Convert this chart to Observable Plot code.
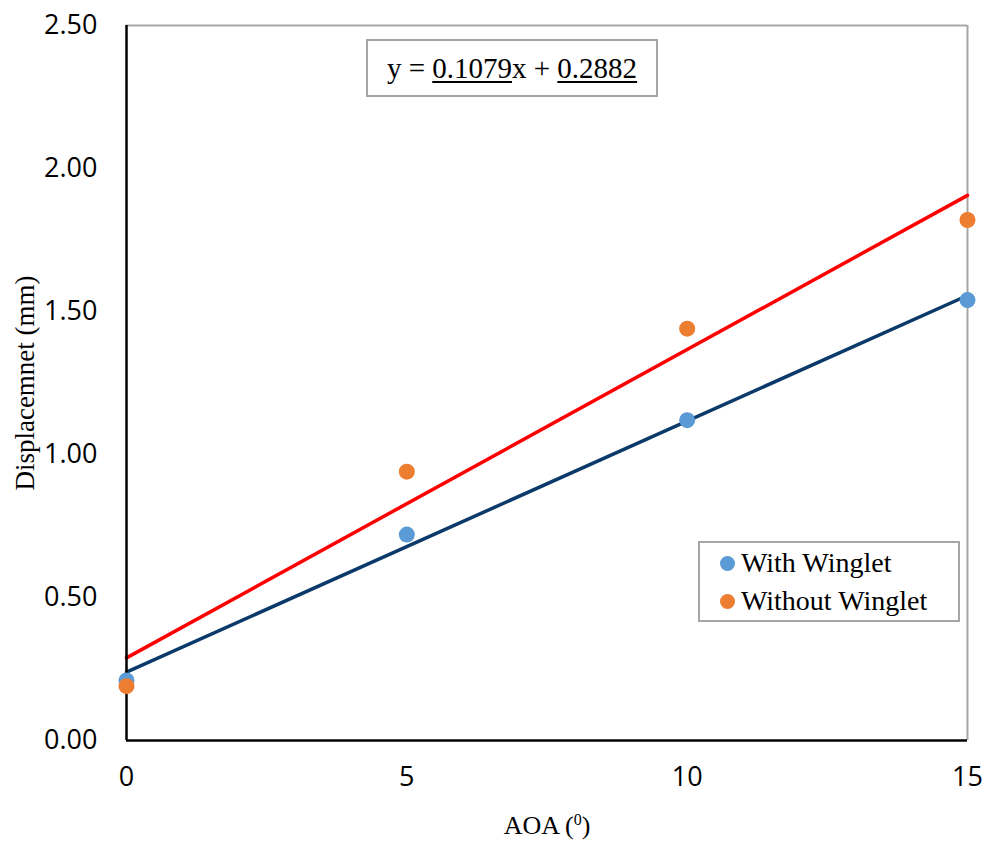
<!DOCTYPE html>
<html>
<head>
<meta charset="utf-8">
<script src="https://cdn.jsdelivr.net/npm/d3@7"></script>
<script src="https://cdn.jsdelivr.net/npm/@observablehq/plot@0.6"></script>
<style>
  body { margin: 0; background: #fff; }
  #wrap { position: relative; width: 989px; height: 841px; }
  .box { position: absolute; background: #fff; border: 2px solid #a6a6a6; box-sizing: border-box;
         font-family: "Liberation Serif", serif; color: #000; }
  #eq { left: 366px; top: 39px; width: 292px; height: 58px; font-size: 29px; line-height: 54px; text-align: center; white-space: nowrap; }
  #eq u { text-decoration-thickness: 1.5px; text-underline-offset: 3px; }
  #legend { left: 698px; top: 541px; width: 262px; height: 81px; font-size: 28px; padding-top: 1px; white-space: nowrap; }
  .li { display: flex; align-items: center; height: 38px; padding-left: 20px; }
  .sw { width: 15px; height: 15px; border-radius: 50%; margin-right: 6px; flex: none; }
</style>
</head>
<body>
<div id="wrap"></div>
<script>
const aoa = [0, 5, 10, 15];
const withWinglet = [0.21, 0.72, 1.12, 1.54];
const withoutWinglet = [0.19, 0.94, 1.44, 1.82];
const seriesNames = ["With Winglet", "Without Winglet"];
const dotColors = ["#5B9BD5", "#ED7D31"];
const lineColors = ["#0B3A6A", "#FF0000"];
const yTicks = [0, 0.5, 1.0, 1.5, 2.0, 2.5];
const xTicks = [0, 5, 10, 15];
const xTitle = "AOA (⁰)";
const yTitle = "Displacemnet (mm)";
const eqSlope = "0.1079";
const eqIntercept = "0.2882";

const rows = [];
aoa.forEach((x, i) => rows.push({x, y: withWinglet[i], s: seriesNames[0]}));
aoa.forEach((x, i) => rows.push({x, y: withoutWinglet[i], s: seriesNames[1]}));
const rowsW = rows.filter(d => d.s === seriesNames[0]);
const rowsWO = rows.filter(d => d.s === seriesNames[1]);

const serif = "'Liberation Serif', 'Times New Roman', serif";

const chart = Plot.plot({
  width: 989,
  height: 841,
  marginLeft: 126,
  marginRight: 22,
  marginTop: 25,
  marginBottom: 101,
  style: {fontFamily: "'Open Sans', 'Liberation Sans', sans-serif", fontSize: "27px", color: "#000", background: "#fff"},
  x: {domain: [0, 15], ticks: xTicks, tickSize: 0, tickPadding: 26, tickFormat: d => d, label: null},
  y: {domain: [0, 2.5], ticks: yTicks, tickSize: 0, tickPadding: 29, tickFormat: d3.format(".2f"), label: null},
  marks: [
    Plot.ruleY([yTicks[yTicks.length - 1]], {stroke: "#a6a6a6", strokeWidth: 2}),
    Plot.ruleX([xTicks[xTicks.length - 1]], {stroke: "#a6a6a6", strokeWidth: 2}),
    Plot.linearRegressionY(rowsW, {x: "x", y: "y", stroke: lineColors[0], strokeWidth: 3.5, ci: 0}),
    Plot.linearRegressionY(rowsWO, {x: "x", y: "y", stroke: lineColors[1], strokeWidth: 3.5, ci: 0}),
    Plot.ruleX([0], {stroke: "#000", strokeWidth: 2.5}),
    Plot.ruleY([0], {stroke: "#000", strokeWidth: 2.5}),
    Plot.dot(rowsW, {x: "x", y: "y", r: 8, fill: dotColors[0], stroke: null}),
    Plot.dot(rowsWO, {x: "x", y: "y", r: 8, fill: dotColors[1], stroke: null}),
    Plot.text([xTitle], {frameAnchor: "bottom", dy: 85, text: d => d, textAnchor: "middle",
      fontFamily: serif, fontSize: 26, lineAnchor: "middle", className: "xtitle"}),
    Plot.text([yTitle], {frameAnchor: "left", dx: -101, rotate: -90, text: d => d, textAnchor: "middle",
      fontFamily: serif, fontSize: 27, lineAnchor: "middle"})
  ]
});

// render the superscript zero as a small raised digit, like the reference
d3.select(chart).selectAll(".xtitle text").each(function() {
  const t = d3.select(this);
  const s = t.text();
  const idx = s.indexOf("⁰");
  if (idx >= 0) {
    t.text("");
    t.append("tspan").text(s.slice(0, idx));
    t.append("tspan").attr("font-size", 16).attr("dy", -9).text("0");
    t.append("tspan").attr("dy", 9).text(s.slice(idx + 1));
  }
});

const wrap = document.getElementById("wrap");
wrap.appendChild(chart);

const eq = document.createElement("div");
eq.className = "box";
eq.id = "eq";
eq.innerHTML = `y = <u>${eqSlope}</u>x + <u>${eqIntercept}</u>`;
wrap.appendChild(eq);

const lg = document.createElement("div");
lg.className = "box";
lg.id = "legend";
lg.innerHTML = seriesNames.map((n, i) =>
  `<div class="li"><span class="sw" style="background:${dotColors[i]}"></span>${n}</div>`).join("");
wrap.appendChild(lg);
</script>
</body>
</html>
